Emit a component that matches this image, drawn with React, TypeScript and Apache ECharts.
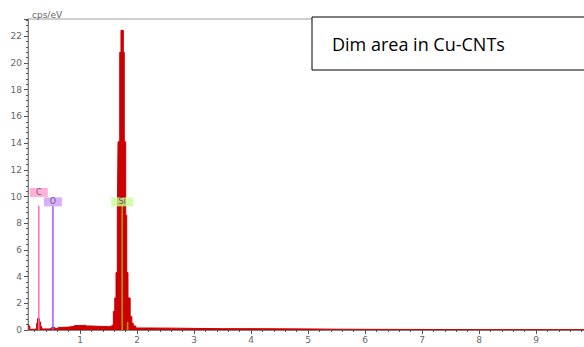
import React, { useEffect, useRef } from "react";
import * as echarts from "echarts";

// Spectrum (keV, cps/eV) — histogram bins: value holds from this energy to the next
const energyKeV = [
  0.088, 0.1, 0.12, 0.2, 0.24, 0.255, 0.29, 0.31, 0.33, 0.45, 0.5, 0.56, 0.62, 0.7, 0.8, 0.9, 1.0, 1.1,
  1.2, 1.3, 1.4, 1.5, 1.56, 1.585, 1.61, 1.632, 1.655, 1.667, 1.697, 1.719, 1.76, 1.777, 1.802, 1.82,
  1.842, 1.88, 1.91, 1.935, 1.98, 2.2, 2.6, 3.0, 3.5, 4.0, 4.5, 5.0, 5.5, 6.0, 8.0, 10.0,
];
const countsCpsEv = [
  0.45, 0.3, 0.05, 0.1, 0.5, 0.85, 0.6, 0.25, 0.08, 0.1, 0.18, 0.12, 0.2, 0.22, 0.27, 0.33, 0.36, 0.3,
  0.28, 0.27, 0.25, 0.28, 0.35, 1.4, 2.4, 4.3, 8.6, 14.1, 20.8, 22.45, 20.8, 14.1, 8.6, 4.3,
  2.4, 1.0, 0.5, 0.3, 0.15, 0.14, 0.12, 0.1, 0.1, 0.09, 0.08, 0.06, 0.05, 0.03, 0.03, 0.03,
];

// Element markers
const elementNames = ["C", "O", "Si"];
const elementEnergies = [0.277, 0.525, 1.74];
const elementLineHeights = [9.3, 9.3, 9.3];
const elementLabelHeights = [10.3, 9.6, 9.6];
const elementLineColors = ["#ff6fb5", "#a855f7", "#a3a300"];
const elementBoxColors = ["#ff9ccf", "#cc9cff", "#c8ff96"];
const elementBoxWidths = [18, 18, 22];
const siKbEnergy = 1.836;
const siKbHeight = 0.6;

const xMajorTicks = [1, 2, 3, 4, 5, 6, 7, 8, 9, 10];
const xMinorTicks: number[] = [];
for (let i = 1; i < 50; i++) {
  if (i % 5 !== 0) xMinorTicks.push(Math.round(i * 0.2 * 10) / 10);
}

const titleText = "Dim area in Cu-CNTs";

export default function App() {
  const ref = useRef<HTMLDivElement>(null);
  useEffect(() => {
    if (!ref.current) return;
    const chart = echarts.init(ref.current, null, { renderer: "svg" });
    const spectrum = energyKeV.map((e, i) => [e, countsCpsEv[i]]);
    const lineSeries: any[] = elementNames.map((n, i) => ({
      type: "line",
      name: n + " line",
      xAxisIndex: 0,
      yAxisIndex: 0,
      data: [
        [elementEnergies[i], 0],
        [elementEnergies[i], elementLineHeights[i]],
      ],
      showSymbol: false,
      symbol: "none",
      lineStyle: { color: elementLineColors[i], width: 1.5 },
      z: 5,
    }));
    lineSeries.push({
      type: "line",
      name: "Si Kb",
      data: [
        [siKbEnergy, 0],
        [siKbEnergy, siKbHeight],
      ],
      symbol: "none",
      lineStyle: { color: elementLineColors[2], width: 1.5 },
      z: 5,
    });
    const tickFont = { fontFamily: "DejaVu Sans", fontSize: 9, color: "#666" };
    chart.setOption({
      animation: false,
      backgroundColor: "#fff",
      grid: {
        left: 28,
        right: 7,
        top: 19,
        bottom: 17,
        containLabel: false,
        outerBoundsMode: "none",
        show: true,
        borderColor: "#a0a0a0",
        borderWidth: 1,
      },
      xAxis: [
        {
          type: "value",
          min: 0.0877,
          max: 10,
          position: "bottom",
          name: "keV",
          nameLocation: "middle",
          nameGap: 11,
          nameTextStyle: { ...tickFont, fontSize: 9 },
          axisLine: { show: true, lineStyle: { color: "#808080" } },
          axisTick: { show: true, length: 4, customValues: xMajorTicks, lineStyle: { color: "#555" } },
          axisLabel: { show: true, customValues: xMajorTicks, margin: 5, ...tickFont },
          splitLine: { show: false },
        },
        {
          type: "value",
          min: 0.0877,
          max: 10,
          position: "bottom",
          offset: 0,
          axisLine: { show: false },
          axisTick: { show: true, length: 2, customValues: xMinorTicks, lineStyle: { color: "#555" } },
          axisLabel: { show: false },
          splitLine: { show: false },
        },
      ],
      yAxis: {
        type: "value",
        min: 0,
        max: 23.3,
        interval: 2,
        name: "cps/eV",
        nameLocation: "end",
        nameGap: 4,
        nameTextStyle: { ...tickFont, align: "left", verticalAlign: "middle", padding: [0, 0, 0, 4] },
        axisLine: { show: true, lineStyle: { color: "#808080" } },
        axisTick: { show: true, length: 4, lineStyle: { color: "#555" } },
        minorTick: { show: true, splitNumber: 5, length: 2, lineStyle: { color: "#555" } },
        axisLabel: {
          margin: 6,
          ...tickFont,
          formatter: (v: number) => (Math.abs(v % 2) < 1e-9 ? String(v) : ""),
        },
        splitLine: { show: false },
      },
      series: [
        {
          type: "line",
          name: "spectrum",
          data: spectrum,
          step: "end",
          showSymbol: false,
          symbol: "none",
          lineStyle: { color: "#cc0000", width: 1 },
          areaStyle: { color: "#cc0000", opacity: 1 },
          z: 3,
        },
        ...lineSeries,
        {
          type: "scatter",
          name: "labels",
          data: elementNames.map((n, i) => ({
            name: n,
            value: [elementEnergies[i], elementLabelHeights[i]],
            symbolSize: [elementBoxWidths[i], 9],
            itemStyle: { color: elementBoxColors[i] },
          })),
          symbol: "rect",
          label: {
            show: true,
            position: "inside",
            formatter: "{b}",
            fontFamily: "DejaVu Sans",
            fontSize: 8,
            color: "#444",
          },
          z: 6,
        },
      ],
      graphic: [
        {
          type: "rect",
          shape: { x: 312, y: 17, width: 300, height: 53 },
          style: { fill: "#fff", stroke: "#000", lineWidth: 1 },
          z: 100,
        },
        {
          type: "text",
          x: 332,
          y: 44,
          style: {
            text: titleText,
            fontFamily: "Open Sans",
            fontSize: 18,
            fill: "#000",
            verticalAlign: "middle",
          },
          z: 101,
        },
      ],
    });
    return () => chart.dispose();
  }, []);
  return (
    <div
      style={{
        position: "fixed",
        left: 0,
        top: 0,
        width: 584,
        height: 347,
        overflow: "hidden",
        background: "#fff",
      }}
    >
      <div ref={ref} style={{ width: 600, height: 347 }} />
    </div>
  );
}
